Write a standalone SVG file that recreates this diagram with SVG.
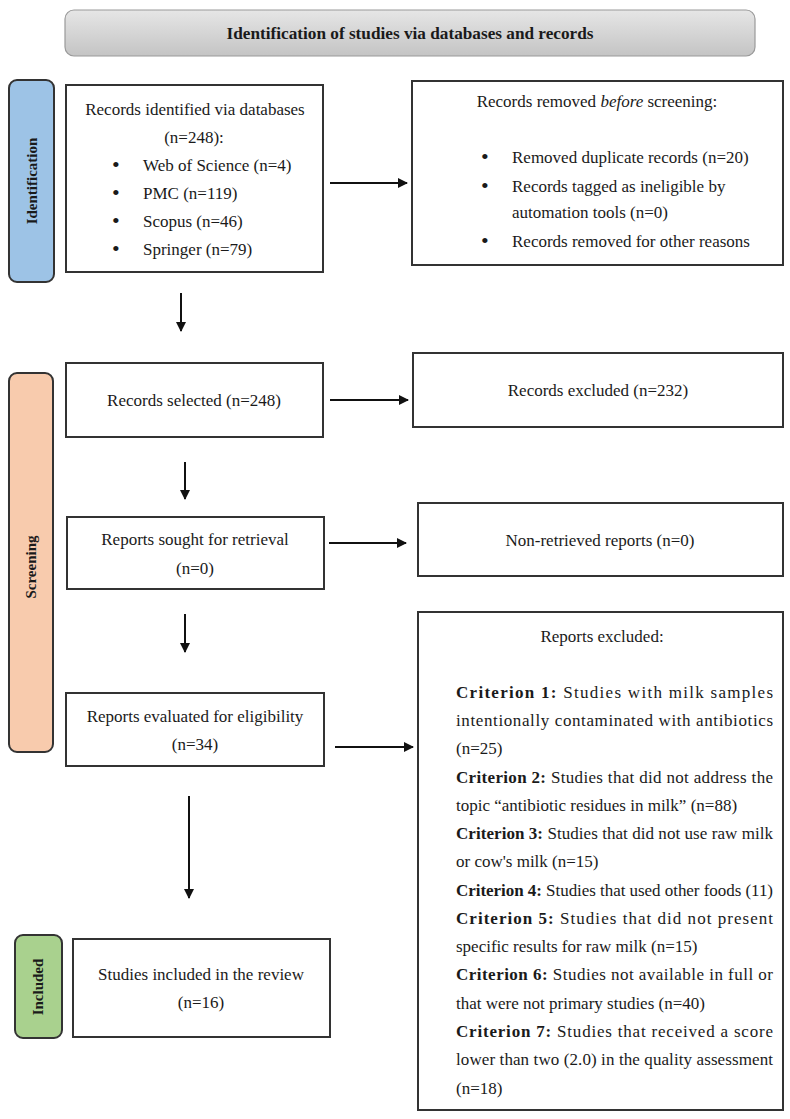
<svg xmlns="http://www.w3.org/2000/svg" width="790" height="1119" viewBox="0 0 790 1119">
<style>
.box{fill:#fff;stroke:#333;stroke-width:2}
.t{font-family:"Liberation Serif","Times New Roman",serif;font-size:17px;fill:#1a1a1a}
.c{text-anchor:middle}
.b{font-weight:bold}
.bu{font-size:22px}
.side{stroke:#333;stroke-width:2}
.lab{font-family:"Liberation Serif","Times New Roman",serif;font-size:15px;font-weight:bold;fill:#1a1a1a;text-anchor:middle}
.conn line{stroke:#111;stroke-width:2;marker-end:url(#ah)}
</style>
<defs>
<linearGradient id="g" x1="0" y1="0" x2="0" y2="1">
<stop offset="0" stop-color="#e6e6e6"/>
<stop offset="1" stop-color="#c4c4c4"/>
</linearGradient>
<marker id="ah" viewBox="0 0 10 10" refX="9" refY="5" markerWidth="5" markerHeight="5" orient="auto" markerUnits="strokeWidth">
<path d="M0,0 L10,5 L0,10 z" fill="#111"/>
</marker>
</defs>
<rect width="790" height="1119" fill="#fff"/>

<g id="title">
<rect x="65" y="10" width="690" height="46" rx="9" fill="url(#g)" stroke="#9a9a9a" stroke-width="1.2"/>
<text class="t b c" x="410" y="39" font-size="15" textLength="367" lengthAdjust="spacingAndGlyphs">Identification of studies via databases and records</text>
</g>

<g id="phase-identification">
<rect class="side" x="9" y="80" width="45" height="202" rx="8" fill="#9DC3E6"/>
<text class="lab" transform="translate(37,181) rotate(-90)">Identification</text>
</g>
<g id="phase-screening">
<rect class="side" x="9" y="373" width="44" height="379" rx="8" fill="#F8CBAD"/>
<text class="lab" transform="translate(36,567) rotate(-90)">Screening</text>
</g>
<g id="phase-included">
<rect class="side" x="15" y="935" width="47" height="103" rx="8" fill="#A9D18E"/>
<text class="lab" transform="translate(43,987) rotate(-90)">Included</text>
</g>

<g id="records-identified">
<rect class="box" x="66" y="85" width="257" height="187"/>
<text class="t c" x="195" y="115">Records identified via databases</text>
<text class="t c" x="194" y="143">(n=248):</text>
<g class="t">
<text class="bu" x="112" y="172">•</text><text x="143" y="171">Web of Science (n=4)</text>
<text class="bu" x="112" y="200">•</text><text x="143" y="199">PMC (n=119)</text>
<text class="bu" x="112" y="228">•</text><text x="143" y="227">Scopus (n=46)</text>
<text class="bu" x="112" y="256">•</text><text x="143" y="255">Springer (n=79)</text>
</g>
</g>

<g id="records-removed">
<rect class="box" x="412" y="81" width="371" height="184"/>
<text class="t c" x="597" y="107">Records removed <tspan font-style="italic">before</tspan> screening:</text>
<g class="t">
<text class="bu" x="481" y="164">•</text><text x="512" y="163">Removed duplicate records (n=20)</text>
<text class="bu" x="481" y="193">•</text><text x="512" y="192">Records tagged as ineligible by</text>
<text x="512" y="218">automation tools (n=0)</text>
<text class="bu" x="481" y="248">•</text><text x="512" y="247">Records removed for other reasons</text>
</g>
</g>

<g id="records-selected">
<rect class="box" x="66" y="363" width="257" height="74"/>
<text class="t c" x="194" y="406">Records selected (n=248)</text>
</g>

<g id="records-excluded">
<rect class="box" x="413" y="353" width="370" height="74"/>
<text class="t c" x="598" y="396">Records excluded (n=232)</text>
</g>

<g id="reports-sought">
<rect class="box" x="67" y="517" width="257" height="72"/>
<text class="t c" x="195" y="545">Reports sought for retrieval</text>
<text class="t c" x="195" y="574">(n=0)</text>
</g>

<g id="non-retrieved">
<rect class="box" x="418" y="503" width="365" height="73"/>
<text class="t c" x="600" y="546">Non-retrieved reports (n=0)</text>
</g>

<g id="reports-evaluated">
<rect class="box" x="66" y="693" width="258" height="73"/>
<text class="t c" x="195" y="722">Reports evaluated for eligibility</text>
<text class="t c" x="195" y="750">(n=34)</text>
</g>

<g id="reports-excluded">
<rect class="box" x="418" y="612" width="365" height="498"/>
<text class="t c" x="602" y="642">Reports excluded:</text>
<g class="t">
<text x="456" y="698" textLength="317" lengthAdjust="spacing"><tspan font-weight="bold">Criterion 1:</tspan> Studies with milk samples</text>
<text x="456" y="726" textLength="317" lengthAdjust="spacing">intentionally contaminated with antibiotics</text>
<text x="456" y="754">(n=25)</text>
<text x="456" y="783" textLength="317" lengthAdjust="spacing"><tspan font-weight="bold">Criterion 2:</tspan> Studies that did not address the</text>
<text x="456" y="811">topic “antibiotic residues in milk” (n=88)</text>
<text x="456" y="839" textLength="317" lengthAdjust="spacing"><tspan font-weight="bold">Criterion 3:</tspan> Studies that did not use raw milk</text>
<text x="456" y="867">or cow's milk (n=15)</text>
<text x="456" y="896" textLength="317" lengthAdjust="spacing"><tspan font-weight="bold">Criterion 4:</tspan> Studies that used other foods (11)</text>
<text x="456" y="924" textLength="317" lengthAdjust="spacing"><tspan font-weight="bold">Criterion 5:</tspan> Studies that did not present</text>
<text x="456" y="952">specific results for raw milk (n=15)</text>
<text x="456" y="980" textLength="317" lengthAdjust="spacing"><tspan font-weight="bold">Criterion 6:</tspan> Studies not available in full or</text>
<text x="456" y="1009">that were not primary studies (n=40)</text>
<text x="456" y="1037" textLength="317" lengthAdjust="spacing"><tspan font-weight="bold">Criterion 7:</tspan> Studies that received a score</text>
<text x="456" y="1065" textLength="317" lengthAdjust="spacing">lower than two (2.0) in the quality assessment</text>
<text x="456" y="1094">(n=18)</text>
</g>
</g>

<g id="studies-included">
<rect class="box" x="73" y="939" width="257" height="98"/>
<text class="t c" x="201" y="980">Studies included in the review</text>
<text class="t c" x="201" y="1008">(n=16)</text>
</g>

<g id="connectors" class="conn">
<line x1="330" y1="183" x2="407" y2="183"/>
<line x1="181" y1="293" x2="181" y2="331"/>
<line x1="330" y1="400" x2="408" y2="400"/>
<line x1="185" y1="462" x2="185" y2="499"/>
<line x1="329" y1="543" x2="406" y2="543"/>
<line x1="185" y1="614" x2="185" y2="652"/>
<line x1="335" y1="747" x2="413" y2="747"/>
<line x1="189" y1="796" x2="189" y2="898"/>
</g>
</svg>
